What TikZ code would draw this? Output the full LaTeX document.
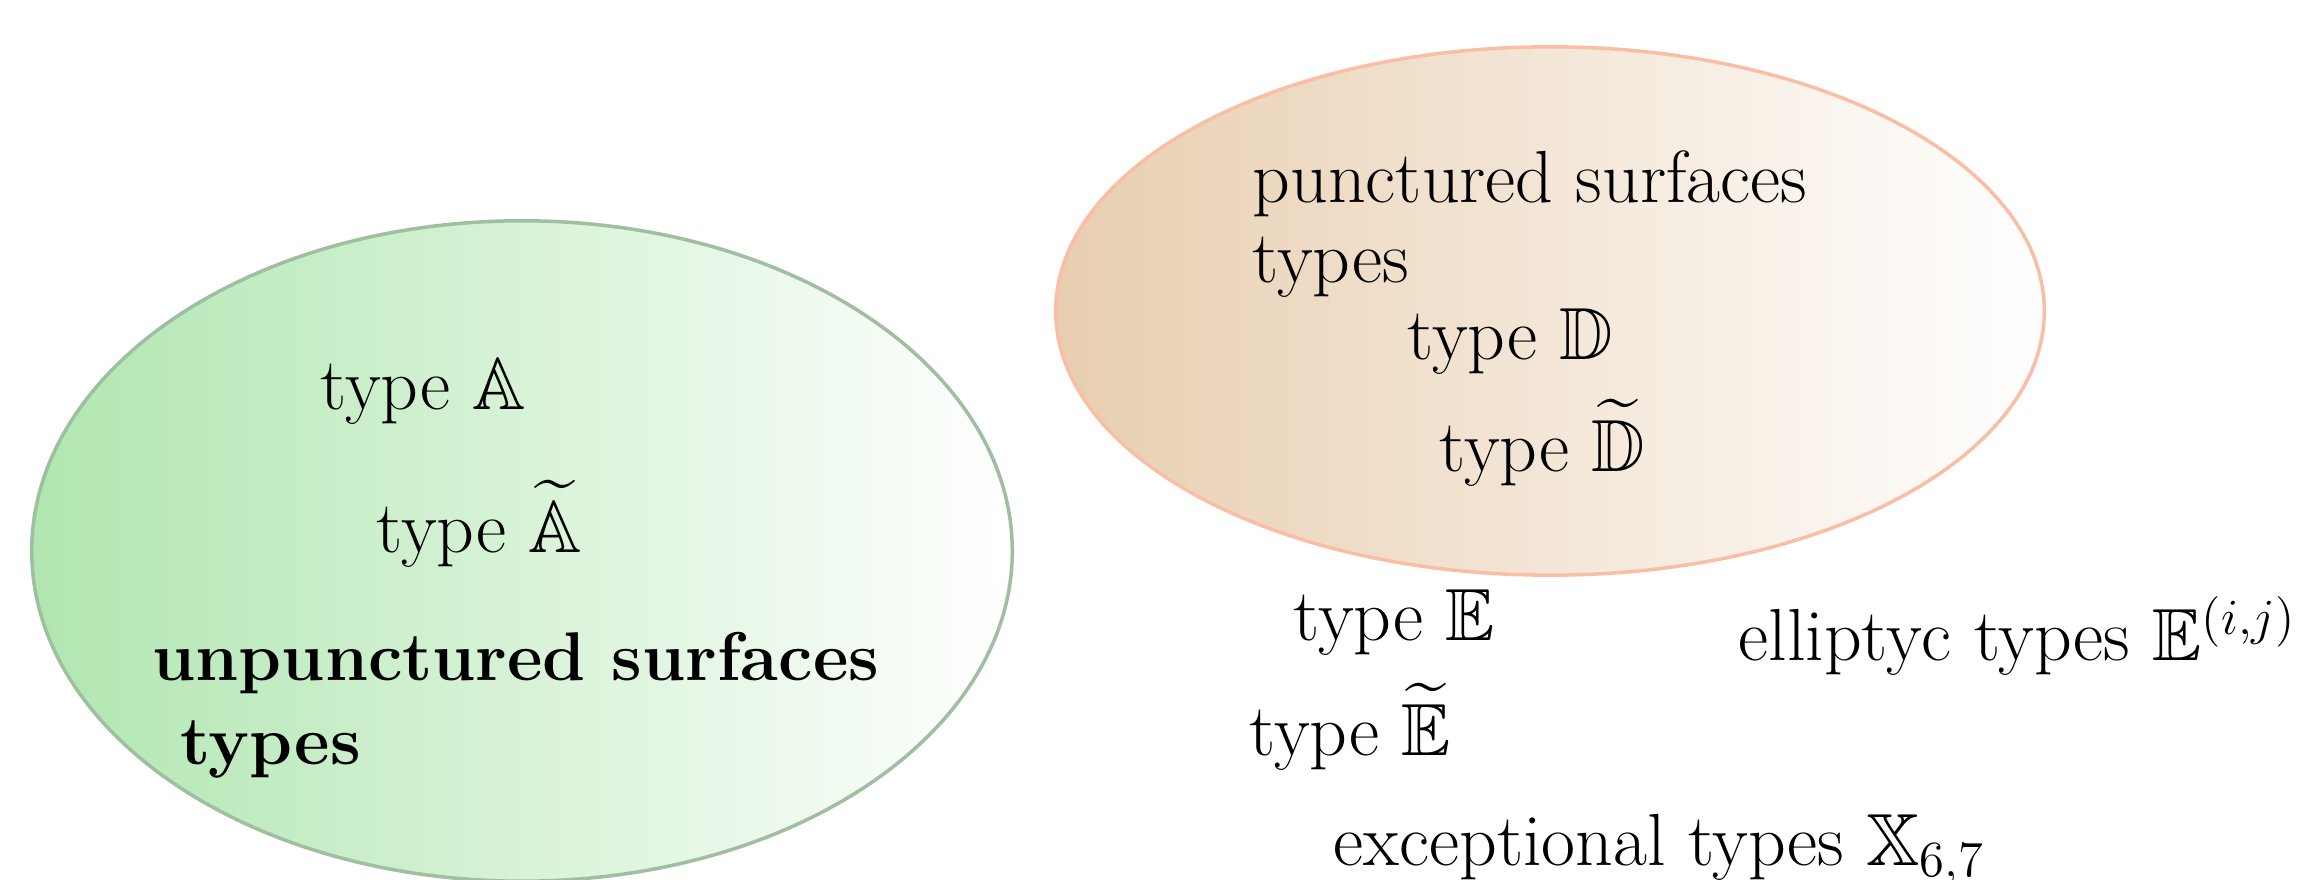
\documentclass[tikz,border=0pt]{standalone}
\usepackage{amssymb}
\usetikzlibrary{shapes.geometric}
\definecolor{gleft}{RGB}{176,230,176}
\definecolor{gborder}{RGB}{160,190,160}
\definecolor{oleft}{RGB}{232,206,176}
\definecolor{oborder}{RGB}{250,190,165}
\begin{document}
\begin{tikzpicture}[x=0.01cm,y=-0.01cm,
  blob/.style={ellipse, line width=1pt, inner sep=0pt},
  lbl/.style={anchor=west, inner sep=0pt, font=\fontsize{21}{25}\selectfont},
  blbl/.style={anchor=west, inner sep=0pt, font=\fontsize{19.6}{23}\selectfont\bfseries}]
\useasboundingbox (0,0) rectangle (2310,880);
\node[blob, draw=gborder, left color=gleft, right color=white,
  minimum width=9.8cm, minimum height=6.6cm] (unp) at (522,551) {};
\node[blob, draw=oborder, left color=oleft, right color=white,
  minimum width=9.88cm, minimum height=5.28cm] (pun) at (1550,311) {};
\node[lbl] (tA) at (320,392) {type $\mathbb{A}$};
\node[lbl] (tAt) at (376,524) {type $\widetilde{\mathbb{A}}$};
\node[blbl] (us1) at (152,663) {unpunctured surfaces};
\node[blbl] (us2) at (180,750) {types};
\node[lbl] (ps1) at (1252,184) {punctured surfaces};
\node[lbl] (ps2) at (1252,267) {types};
\node[lbl] (tD) at (1407,342) {type $\mathbb{D}$};
\node[lbl] (tDt) at (1439,443) {type $\widetilde{\mathbb{D}}$};
\node[lbl] (tE) at (1293,623) {type $\mathbb{E}$};
\node[lbl] (tEt) at (1249,727) {type $\widetilde{\mathbb{E}}$};
\node[lbl] (ell) at (1738,636) {elliptyc types $\mathbb{E}^{(i,j)}$};
\node[lbl] (exc) at (1333,850) {exceptional types $\mathbb{X}_{6,7}$};
\end{tikzpicture}
\end{document}
